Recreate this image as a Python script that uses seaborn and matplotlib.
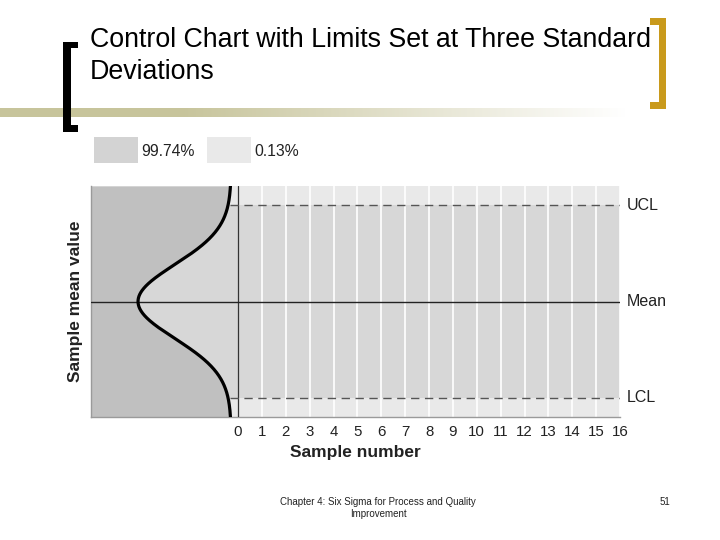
import numpy as np
import matplotlib
matplotlib.use("Agg")
import matplotlib.pyplot as plt
from matplotlib.patches import Rectangle
from matplotlib.transforms import blended_transform_factory
import seaborn as sns

# ---------------- data ----------------
sample_numbers = list(range(0, 17))
tick_labels = [str(n) for n in sample_numbers]
mean_value = 0.0
ucl_value = 3.0
lcl_value = -3.0
limit_labels = ["UCL", "Mean", "LCL"]
legend_labels = ["99.74%", "0.13%"]
# sideways normal curve drawn to the left of sample 0
curve_base = -0.29
curve_peak = -4.19
curve_sigma = 1.15
y_extent = 3.6
x_left = -6.16
x_right = 16.0

title_line1 = "Control Chart with Limits Set at Three Standard"
title_line2 = "Deviations"
footer_text = "Chapter 4: Six Sigma for Process and Quality\nImprovement"
page_number = "51"

# ---------------- style ----------------
sns.set_theme(style="white")
plt.rcParams["font.family"] = ["Liberation Sans", "DejaVu Sans"]

W, H = 720, 540
fig = plt.figure(figsize=(7.2, 5.4), dpi=100)
fig.patch.set_facecolor("white")


def fx(px):
    return px / W


def fy(py):
    return 1 - py / H


def rect(x0, y0, x1, y1, color):
    fig.patches.append(Rectangle((fx(x0), fy(y1)), fx(x1) - fx(x0), fy(y0) - fy(y1),
                                 transform=fig.transFigure, color=color, lw=0, zorder=5))


# gradient bar
gax = fig.add_axes([0, fy(117.3), 1, fy(107.7) - fy(117.3)])
gax.axis("off")
olive = np.array([0xc7, 0xc4, 0x9b]) / 255.0
xs = np.arange(W)
t = np.clip((xs - 180) / (625 - 180), 0, 1)
row = olive[None, :] * (1 - t[:, None]) + np.ones(3)[None, :] * t[:, None]
gax.imshow(row[None, :, :], aspect="auto", extent=[0, 1, 0, 1])
gax.set_xlim(0, 1)

# brackets
rect(63, 41.7, 71, 131.7, "black")
rect(63, 41.7, 78, 48.3, "black")
rect(63, 125, 78, 131.7, "black")
gold = "#c99a1c"
rect(659, 18.3, 665.5, 109, gold)
rect(650, 18.3, 665.5, 25, gold)
rect(650, 101.7, 665.5, 109, gold)

# title
fig.text(fx(90), fy(47), title_line1, fontsize=19.3, ha="left", va="baseline", color="black")
fig.text(fx(90), fy(79), title_line2, fontsize=19.3, ha="left", va="baseline", color="black")

# legend swatches
sw_colors = ["#d3d3d3", "#e9e9e9"]
sw_x = [94, 207]
for xx, c, lab in zip(sw_x, sw_colors, legend_labels):
    rect(xx, 137, xx + 44, 163, c)
    fig.text(fx(xx + 47), fy(151), lab, fontsize=11.3, ha="left", va="center", color="#222222")

# main axes
ax = fig.add_axes([fx(91), fy(417), fx(620) - fx(91), fy(186) - fy(417)])
ax.set_xlim(x_left, x_right)
ax.set_ylim(-y_extent, y_extent)
ax.set_facecolor("#e9e9e9")

ax.axhspan(lcl_value, ucl_value, color="#d7d7d7", lw=0, zorder=0)

yy = np.linspace(-y_extent, y_extent, 500)
xx_curve = curve_base + (curve_peak - curve_base) * np.exp(-(yy - mean_value) ** 2 / (2 * curve_sigma ** 2))
ax.fill_betweenx(yy, x_left, xx_curve, color="#c0c0c0", lw=0, zorder=1)

ax.vlines(sample_numbers[1:], -y_extent, y_extent, color="white", lw=1.2, zorder=2)
ax.axvline(sample_numbers[0], color="#333333", lw=0.9, zorder=3)
ax.hlines([ucl_value, lcl_value], curve_base - 0.05, x_right, colors="#555555", lw=1.0,
          linestyles=(0, (6, 4)), zorder=3)
ax.axhline(mean_value, color="#222222", lw=1.0, zorder=3)

sns.lineplot(x=xx_curve, y=yy, sort=False, estimator=None, color="black", lw=2.3, ax=ax, zorder=4)

ax.set_xticks(sample_numbers)
ax.set_xticklabels(tick_labels)
ax.set_yticks([])
ax.tick_params(axis="x", length=0, pad=6, labelsize=10.8, labelcolor="#222222")
for s in ["top", "right"]:
    ax.spines[s].set_visible(False)
for s in ["left", "bottom"]:
    ax.spines[s].set_color("#9a9a9a")
    ax.spines[s].set_linewidth(1.0)

ax.set_xlabel("Sample number", fontsize=12.5, fontweight="bold", color="#222222", labelpad=4)
ax.set_ylabel("Sample mean value", fontsize=12.5, fontweight="bold", color="#222222", labelpad=6)

trans = blended_transform_factory(ax.transAxes, ax.transData)
for lab, val in zip(limit_labels, [ucl_value, mean_value, lcl_value]):
    ax.text(1.012, val, lab, transform=trans, ha="left", va="center", fontsize=11.5, color="#222222")

# footer
fig.text(fx(378), fy(508), footer_text, fontsize=7, ha="center", va="center",
         color="#222222", linespacing=1.25)
fig.text(fx(665), fy(502), page_number, fontsize=7, ha="center", va="center", color="#222222")

fig.savefig("out.png", dpi=100)
